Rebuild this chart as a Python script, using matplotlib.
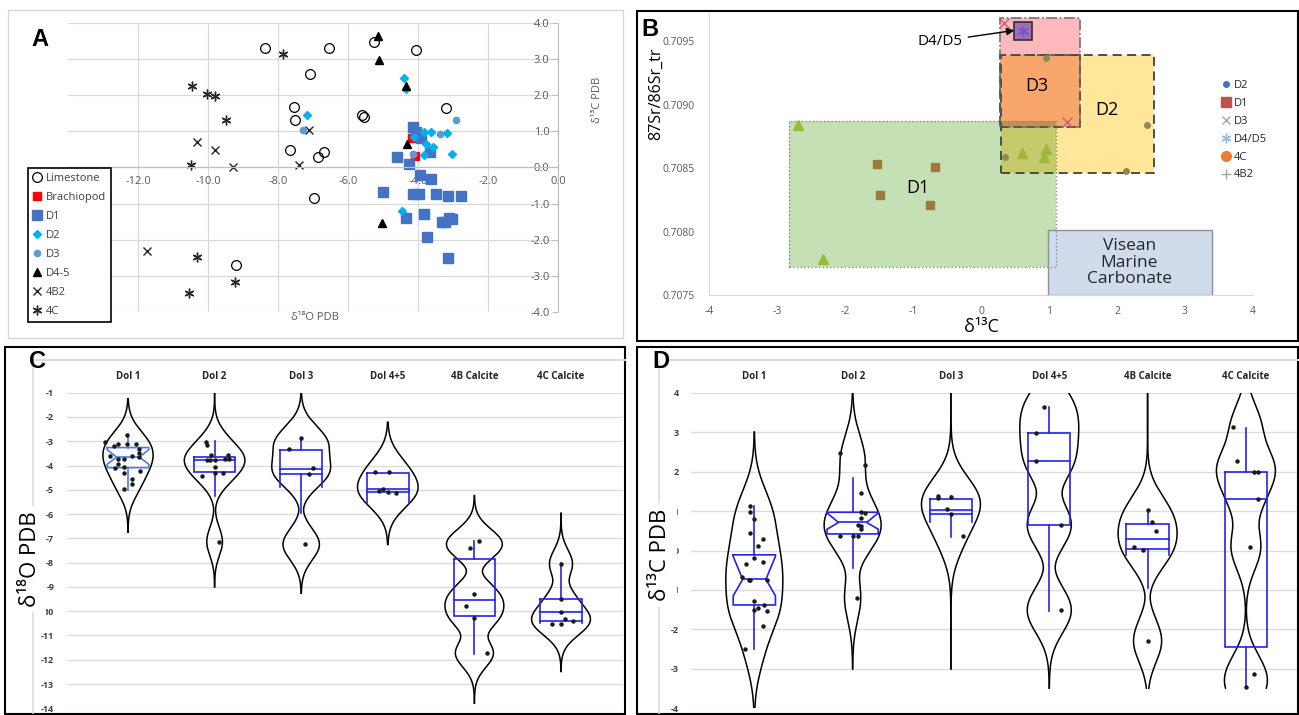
import numpy as np
import matplotlib as mpl
import matplotlib.pyplot as plt
from matplotlib.lines import Line2D
from matplotlib.patches import Rectangle

mpl.rcParams['font.family'] = ['Open Sans', 'DejaVu Sans']

# ------------------------------------------------------- #
# Panel A : d18O vs d13C cross plot

limestone_x = [-8.37, -6.55, -7.09, -7.55, -7.51, -7.66, -6.69, -6.85, -6.98, -9.19, -5.26, -4.05, -5.61, -5.54, -3.20]
limestone_y = [3.31, 3.31, 2.58, 1.66, 1.32, 0.48, 0.43, 0.29, -0.84, -2.71, 3.48, 3.24, 1.44, 1.40, 1.65]
brach_x = [-4.16, -4.09]
brach_y = [0.81, 0.31]
d1_x = [-4.14, -4.05, -3.92, -3.66, -4.59, -4.26, -3.94, -3.64, -5.01, -4.13, -3.98, -3.49, -3.14, -2.77,
        -3.82, -4.34, -3.32, -3.23, -3.12, -3.02, -3.74, -3.13]
d1_y = [1.11, 0.97, 0.80, 0.43, 0.29, 0.10, -0.20, -0.32, -0.69, -0.73, -0.73, -0.75, -0.79, -0.78,
        -1.30, -1.40, -1.50, -1.52, -1.41, -1.44, -1.93, -2.52]
d2_x = [-7.18, -4.39, -4.35, -4.11, -3.82, -3.62, -3.18, -3.77, -3.58, -3.82, -3.04, -4.46]
d2_y = [1.46, 2.46, 2.16, 0.83, 0.97, 0.97, 0.94, 0.64, 0.55, 0.35, 0.37, -1.21]
d3_x = [-7.29, -2.92, -3.37, -4.13]
d3_y = [1.02, 1.30, 0.91, 0.36]
d45_x = [-5.15, -5.11, -4.33, -4.31, -5.02]
d45_y = [3.64, 2.97, 2.26, 0.64, -1.55]
b42_x = [-7.12, -10.31, -9.79, -9.29, -7.41, -11.74]
b42_y = [1.02, 0.71, 0.48, 0.0, 0.06, -2.31]
c4_x = [-7.87, -10.46, -10.02, -9.80, -9.49, -10.48, -10.31, -9.23, -10.53]
c4_y = [3.13, 2.26, 2.02, 1.97, 1.32, 0.07, -2.49, -3.16, -3.48]

# Panel B : Sr isotopes vs d13C
sr_d2_x = [0.96, 2.44, 2.13, 0.35]
sr_d2_y = [0.70937, 0.70884, 0.70848, 0.70859]
sr_d1_x = [-1.53, -0.68, -1.49, -0.75]
sr_d1_y = [0.70853, 0.70851, 0.70829, 0.70821]
sr_d3_x = [0.34, 1.27]
sr_d3_y = [0.70964, 0.70886]
sr_d45_x = [0.62]
sr_d45_y = [0.70958]
sr_tri_x = [-2.69, -2.33, 0.61, 0.96, 0.93]
sr_tri_y = [0.70884, 0.70778, 0.70862, 0.70865, 0.70859]

region_names = ['D2', 'D3 upper', 'D3', 'D1', 'Visean']
region_x0 = [0.30, 0.28, 0.28, -2.82, 0.98]
region_x1 = [2.55, 1.45, 1.45, 1.10, 3.39]
region_y0 = [0.70846, 0.70882, 0.70882, 0.70772, 0.70750]
region_y1 = [0.70939, 0.70968, 0.70939, 0.70887, 0.70801]

# Panels C and D : violins
cats = ['Dol 1', 'Dol 2', 'Dol 3', 'Dol 4+5', '4B Calcite', '4C Calcite']

o18_vals = [
    [-2.74, -3.02, -3.12, -3.12, -3.10, -3.18, -3.30, -3.47, -3.61, -3.61, -3.65, -3.74, -3.74, -3.92,
     -4.06, -4.09, -4.21, -4.31, -4.57, -4.76, -4.97],
    [-3.02, -3.15, -3.55, -3.57, -3.76, -3.77, -3.77, -3.74, -3.74, -4.06, -4.32, -4.32, -4.44, -7.14],
    [-2.88, -3.32, -4.11, -4.36, -7.25],
    [-4.25, -4.25, -5.05, -4.98, -5.08, -5.12],
    [-7.10, -7.38, -9.29, -9.78, -10.29, -11.73],
    [-8.05, -9.50, -10.02, -10.32, -10.51, -10.51, -10.40],
]
o18_jit = [
    [-0.01, -0.26, -0.11, -0.01, 0.09, -0.16, 0.13, 0.13, -0.21, 0.05, 0.13, -0.11, -0.05, -0.11,
     -0.05, -0.15, 0.14, -0.05, 0.05, 0.05, -0.05],
    [-0.10, -0.09, -0.04, 0.15, -0.09, -0.05, 0.0, 0.12, 0.17, 0.0, 0.0, 0.10, -0.14, 0.05],
    [0.0, -0.14, 0.14, 0.09, 0.04],
    [-0.15, 0.01, -0.10, -0.05, 0.0, 0.09],
    [0.05, -0.05, 0.0, -0.10, 0.0, 0.14],
    [0.0, 0.0, 0.0, 0.05, -0.10, 0.0, 0.14],
]
o18_q1 = [-4.09, -4.25, -4.36, -5.07, -10.18, -10.40]
o18_med = [-3.65, -3.77, -4.13, -4.97, -9.54, -10.02]
o18_q3 = [-3.26, -3.63, -3.34, -4.29, -7.86, -9.50]
o18_wlo = [-5.00, -5.25, -5.97, -5.07, -11.78, -10.40]
o18_whi = [-2.75, -3.00, -2.88, -4.29, -7.10, -8.03]
o18_clo = [-3.95, -4.25, -4.87, -5.53, -10.18, -10.47]
o18_chi = [-3.35, -3.63, -3.34, -4.29, -7.86, -9.50]
o18_vlo = [-6.75, -9.00, -9.26, -7.25, -13.79, -12.48]
o18_vhi = [-1.25, -1.00, -1.00, -2.22, -5.24, -5.97]
o18_ticklabels = ['-1', '-2', '-3', '-4', '-5', '-6', '-7', '-8', '-9', '10', '-11', '-12', '-13', '-14']

c13_vals = [
    [1.13, 0.98, 0.80, 0.44, 0.29, 0.11, -0.18, -0.30, -0.33, -0.66, -0.75, -0.75, -0.75, -1.28,
     -1.38, -1.47, -1.51, -1.53, -1.91, -2.50],
    [2.46, 2.17, 1.45, 0.97, 0.94, 0.82, 0.65, 0.62, 0.54, 0.37, 0.37, 0.37, -1.20],
    [1.39, 1.32, 1.35, 1.04, 0.92, 0.37],
    [3.64, 2.98, 2.26, 0.65, -1.51],
    [1.03, 0.73, 0.49, 0.08, 0.01, -2.29],
    [3.14, 2.27, 1.99, 1.99, 1.31, 0.09, -3.13, -3.45],
]
c13_jit = [
    [-0.04, -0.04, 0.0, -0.04, 0.09, 0.04, 0.0, 0.09, -0.08, -0.13, -0.05, -0.04, 0.13, 0.0,
     0.10, 0.04, 0.0, 0.13, 0.09, -0.09],
    [-0.13, 0.13, 0.08, 0.09, 0.13, 0.08, 0.05, 0.08, 0.09, -0.13, 0.0, 0.05, 0.04],
    [-0.13, -0.13, 0.0, -0.04, 0.0, 0.12],
    [-0.05, -0.13, -0.13, 0.12, 0.12],
    [0.0, 0.04, 0.09, -0.14, -0.05, 0.0],
    [-0.13, -0.09, 0.08, 0.12, 0.12, 0.04, 0.08, 0.0],
]
c13_q1 = [-1.38, 0.42, 0.92, 0.65, 0.04, -2.45]
c13_med = [-0.73, 0.71, 1.02, 2.26, 0.28, 1.31]
c13_q3 = [-0.11, 0.97, 1.31, 2.98, 0.66, 2.00]
c13_wlo = [-2.50, -0.44, 0.35, -1.53, -0.94, -3.45]
c13_whi = [1.13, 1.83, 1.37, 3.64, 1.03, 3.11]
c13_clo = [-1.15, 0.54, 0.73, 0.65, -0.11, -2.45]
c13_chi = [-0.15, 0.95, 1.31, 2.98, 0.66, 2.00]
c13_vlo = [-4.00, -3.00, -3.00, -3.49, -3.49, -3.49]
c13_vhi = [3.00, 4.00, 4.00, 5.50, 4.00, 4.00]
c13_ticklabels = ['4', '3', '2', '1', '0', '1', '-2', '-3', '-4']

# ------------------------------------------------------- #

W, H = 1299, 715

def fx(px):
    return px / W

def fy(py):
    return 1 - py / H

def frame(l, t, r, b):
    return [fx(l), fy(b), (r - l) / W, (b - t) / H]

def box_outline(x0, y0, x1, y1, color, lw):
    fig.add_artist(Rectangle((fx(x0), fy(y1)), (x1 - x0) / W, (y1 - y0) / H, transform=fig.transFigure,
                             fill=False, ec=color, lw=lw))

def kde(vals, bw, lo, hi):
    # gaussian kde, width drawn with a softened profile so the bulbs look full
    ys = np.linspace(lo, hi, 400)
    d = np.exp(-0.5 * ((ys[:, None] - np.array(vals)[None, :]) / bw) ** 2).sum(axis=1)
    d = (d / d.max()) ** 0.6
    return ys, d

def draw_box(ax, x, q1, med, q3, wlo, whi, clo, chi, hw, notch, color):
    kw = dict(color=color, lw=1.2, zorder=3, solid_joinstyle='miter')
    if notch:
        f = 0.55
        xs = [x - hw, x + hw, x + hw, x + f * hw, x + hw, x + hw, x - hw, x - hw, x - f * hw, x - hw, x - hw]
        ys = [q3, q3, chi, med, clo, q1, q1, clo, med, chi, q3]
        ax.plot(xs, ys, **kw)
        ax.plot([x - f * hw, x + f * hw], [med, med], **kw)
    else:
        ax.plot([x - hw, x + hw, x + hw, x - hw, x - hw], [q3, q3, q1, q1, q3], **kw)
        ax.plot([x - hw, x + hw], [med, med], **kw)
        if clo < q1:
            ax.plot([x - hw, x - hw], [q1, clo], **kw)
            ax.plot([x + hw, x + hw], [q1, clo], **kw)
    if whi > q3:
        ax.plot([x, x], [q3, whi], **kw)
    if wlo < q1:
        ax.plot([x, x], [q1, wlo], **kw)

fig = plt.figure(figsize=(12.99, 7.15), dpi=100)

# panel borders
box_outline(8, 10, 623, 338, '#D9D9D9', 1.0)
box_outline(637, 11, 1298, 341, 'black', 1.5)
box_outline(5, 347, 625, 714, 'black', 1.5)
box_outline(637, 347, 1298, 714, 'black', 1.5)

# ------------------------------------------------------- #
# A

axA = fig.add_axes(frame(68, 22.7, 558, 312))
axA.set_xlim(-14, 0)
axA.set_ylim(-4, 4)
axA.set_xticks(np.arange(-12, 0.1, 2))
axA.set_yticks(np.arange(-4, 4.1, 1))
axA.xaxis.set_major_formatter(lambda v, p: f'{v:.1f}'.replace('-0.0', '0.0'))
axA.yaxis.set_major_formatter(lambda v, p: f'{v:.1f}'.replace('-0.0', '0.0'))
axA.grid(True, color='#D9D9D9', lw=0.9)
axA.set_axisbelow(True)
axA.spines['top'].set_visible(False)
axA.spines['right'].set_visible(False)
axA.spines['left'].set_position(('data', 0))
axA.spines['bottom'].set_position(('data', 0))
axA.spines['left'].set_color('#BFBFBF')
axA.spines['bottom'].set_color('#BFBFBF')
axA.tick_params(axis='y', length=4, color='#BFBFBF', labelsize=8, labelcolor='#595959', pad=2)
axA.tick_params(axis='x', length=0, labelsize=8, labelcolor='#595959', pad=6)

axA.plot(limestone_x, limestone_y, 'o', mfc='none', mec='black', ms=7, mew=0.9, label='Limestone')
axA.plot(b42_x, b42_y, 'x', color='#262626', ms=6, mew=1.0, label='4B2')
axA.plot(c4_x, c4_y, marker=(6, 2, 0), ls='none', color='#262626', ms=7, mew=1.0, label='4C')
axA.plot(brach_x, brach_y, 's', color='#FF0000', ms=6, label='Brachiopod')
axA.plot(d1_x, d1_y, 's', color='#4472C4', ms=6.5, label='D1')
axA.plot(d2_x, d2_y, 'D', color='#00B0F0', ms=4, label='D2')
axA.plot(d3_x, d3_y, 'o', color='#5B9BD5', ms=4.5, label='D3')
axA.plot(d45_x, d45_y, '^', color='black', ms=5.5, label='D4-5')

h, l = axA.get_legend_handles_labels()
order = ['Limestone', 'Brachiopod', 'D1', 'D2', 'D3', 'D4-5', '4B2', '4C']
hd = dict(zip(l, h))
legA = axA.legend([hd[k] for k in order], order, loc='upper left',
                  bbox_to_anchor=(fx(28), fy(168)), bbox_transform=fig.transFigure,
                  fontsize=8, labelcolor='#404040', frameon=True, fancybox=False,
                  edgecolor='black', framealpha=1, borderpad=0.45, labelspacing=0.72,
                  handlelength=0.8, handletextpad=0.35, borderaxespad=0)
legA.get_frame().set_linewidth(1.2)

fig.text(fx(315), fy(318), 'δ¹⁸O PDB', fontsize=8, color='#595959', ha='center', va='center')
fig.text(fx(597), fy(100), 'δ¹³C PDB', fontsize=8, color='#595959', ha='center', va='center', rotation=90)

# ------------------------------------------------------- #
# B

axB = fig.add_axes(frame(709, 12, 1253, 295))
axB.set_xlim(-4, 4)
axB.set_ylim(0.7075, 0.70973)
axB.set_xticks(np.arange(-4, 4.1, 1))
axB.set_yticks([0.7075, 0.7080, 0.7085, 0.7090, 0.7095])
axB.yaxis.set_major_formatter(lambda v, p: f'{v:.4f}')
axB.xaxis.set_major_formatter(lambda v, p: f'{v:.0f}')
for s in ['top', 'right']:
    axB.spines[s].set_visible(False)
for s in ['left', 'bottom']:
    axB.spines[s].set_color('#D9D9D9')
axB.tick_params(length=0, labelsize=7.5, labelcolor='#595959')
axB.tick_params(axis='y', pad=10)
axB.tick_params(axis='x', pad=8)

face = {'D2': '#FFE699', 'D3 upper': '#FFB9BD', 'D3': '#F9A66C', 'D1': '#C5E0B4', 'Visean': '#D0DCEC'}
edge = {'D2': ('#404040', (0, (5, 3)), 1.3), 'D3 upper': ('#707070', '-.', 1.2),
        'D3': ('#505050', (0, (5, 3)), 1.2), 'D1': ('#8A8A8A', ':', 1.0), 'Visean': ('#909090', '-', 1.0)}
for i, name in enumerate(region_names):
    x0, x1, y0, y1 = region_x0[i], region_x1[i], region_y0[i], region_y1[i]
    axB.add_patch(Rectangle((x0, y0), x1 - x0, y1 - y0, fc=face[name], ec='none', zorder=1 + 0.1 * i))

# green D1 box multiplies with the boxes below it
gi = region_names.index('D1')
g_rgb = np.array(mpl.colors.to_rgb(face['D1']))
for i, name in enumerate(region_names[:gi]):
    ix0 = max(region_x0[i], region_x0[gi]); ix1 = min(region_x1[i], region_x1[gi])
    iy0 = max(region_y0[i], region_y0[gi]); iy1 = min(region_y1[i], region_y1[gi])
    if ix1 > ix0 and iy1 > iy0:
        c = np.array(mpl.colors.to_rgb(face[name])) * g_rgb
        axB.add_patch(Rectangle((ix0, iy0), ix1 - ix0, iy1 - iy0, fc=c, ec='none', zorder=1.45))

for i, name in enumerate(region_names):
    x0, x1, y0, y1 = region_x0[i], region_x1[i], region_y0[i], region_y1[i]
    ec, ls, lw = edge[name]
    axB.add_patch(Rectangle((x0, y0), x1 - x0, y1 - y0, fill=False, ec=ec, ls=ls, lw=lw, zorder=2))

axB.plot(sr_tri_x, sr_tri_y, '^', color='#9DB83A', ms=7, zorder=3)
axB.plot(sr_d1_x, sr_d1_y, 's', color='#9A7B3A', ms=6, zorder=3)
axB.plot(sr_d2_x, sr_d2_y, 'o', color='#8E8A55', ms=4, zorder=3)
axB.plot(sr_d3_x, sr_d3_y, 'x', color='#C8607A', ms=7, mew=1.0, zorder=3)
axB.plot(sr_d45_x, sr_d45_y, 's', color='#A46CB4', mec='#303030', ms=13, mew=1.2, zorder=3)
axB.plot(sr_d45_x, sr_d45_y, marker=(6, 2, 0), ls='none', color='#6A5ACD', ms=8, mew=1.0, zorder=4)

axB.annotate('D4/D5', xy=(sr_d45_x[0] - 0.13, sr_d45_y[0] + 0.000005), xytext=(-0.6, 0.70950),
             fontsize=11, ha='center', va='center',
             arrowprops=dict(arrowstyle='-|>', color='black', lw=1.0, shrinkA=2, shrinkB=0))
axB.text(-0.93, 0.70834, 'D1', fontsize=13, ha='center', va='center', zorder=5)
axB.text(1.85, 0.70896, 'D2', fontsize=13, ha='center', va='center', zorder=5)
axB.text(0.82, 0.70915, 'D3', fontsize=13, ha='center', va='center', zorder=5)
axB.text(2.18, 0.707755, 'Visean\nMarine\nCarbonate', fontsize=12.5, ha='center', va='center',
         color='#262626', linespacing=1.05, zorder=5)

legB_handles = [
    Line2D([], [], marker='o', ls='none', color='#4472C4', ms=4),
    Line2D([], [], marker='s', ls='none', color='#C0504D', ms=7),
    Line2D([], [], marker='x', ls='none', color='#A5A5A5', ms=6, mew=1),
    Line2D([], [], marker=(6, 2, 0), ls='none', color='#8DC0E0', ms=7, mew=1),
    Line2D([], [], marker='o', ls='none', color='#ED7D31', ms=7),
    Line2D([], [], marker='+', ls='none', color='#A5A5A5', ms=7, mew=1),
]
axB.legend(legB_handles, ['D2', 'D1', 'D3', 'D4/D5', '4C', '4B2'], loc='upper left',
           bbox_to_anchor=(fx(1222), fy(80)), bbox_transform=fig.transFigure, frameon=False,
           fontsize=8, labelspacing=0.62, handlelength=0.8, handletextpad=0.3, borderpad=0,
           borderaxespad=0, labelcolor='#262626')

fig.text(fx(656), fy(94), '87Sr/86Sr_tr', fontsize=11.5, rotation=90, ha='center', va='center')
fig.text(fx(981), fy(327), 'δ¹³C', fontsize=13, ha='center', va='center')

# ------------------------------------------------------- #
# C and D

def violin_panel(rect, ylim, ticklabels, vals, jit, q1, med, q3, wlo, whi, clo, chi, vlo, vhi,
                 bws, vhw, bhw, notch, colors, xlim):
    ax = fig.add_axes(rect)
    ax.set_xlim(*xlim)
    ax.set_ylim(*ylim)
    ax.set_yticks(np.arange(ylim[1], ylim[0] - 0.1, -1))
    ax.set_yticklabels(ticklabels)
    ax.xaxis.tick_top()
    ax.set_xticks(range(1, len(cats) + 1))
    ax.set_xticklabels(cats)
    for s in ax.spines.values():
        s.set_visible(False)
    ax.grid(axis='y', color='#DCDCDC', lw=1.0)
    ax.set_axisbelow(True)
    ax.tick_params(length=0)
    ax.tick_params(axis='y', labelsize=6.5, labelcolor='#404040', pad=9)
    ax.tick_params(axis='x', labelsize=7, labelcolor='#262626', pad=8)
    for t in ax.get_xticklabels() + ax.get_yticklabels():
        t.set_fontweight('bold')
    for i in range(len(cats)):
        x = i + 1
        ys, d = kde(vals[i], bws[i], vlo[i], vhi[i])
        ax.plot(x - vhw[i] * d, ys, color='black', lw=1.1, zorder=2)
        ax.plot(x + vhw[i] * d, ys, color='black', lw=1.1, zorder=2)
        draw_box(ax, x, q1[i], med[i], q3[i], wlo[i], whi[i], clo[i], chi[i], bhw[i], notch[i], colors[i])
        ax.plot(x + np.array(jit[i]), vals[i], 'o', color='#1A1A1A', ms=2.2, zorder=4)
    return ax

blue = '#2424EE'
axC = violin_panel(frame(66.7, 392.7, 623, 708.3), (-14, -1), o18_ticklabels, o18_vals, o18_jit,
                   o18_q1, o18_med, o18_q3, o18_wlo, o18_whi, o18_clo, o18_chi, o18_vlo, o18_vhi,
                   [0.45, 0.45, 0.5, 0.55, 0.45, 0.45], [0.29, 0.35, 0.34, 0.35, 0.34, 0.34],
                   [0.24] * 6, [True, False, False, False, False, False],
                   ['#4A7FE0'] + [blue] * 5, (0.292, 6.716))
axD = violin_panel(frame(691, 392.7, 1299, 708.3), (-4, 4), c13_ticklabels, c13_vals, c13_jit,
                   c13_q1, c13_med, c13_q3, c13_wlo, c13_whi, c13_clo, c13_chi, c13_vlo, c13_vhi,
                   [0.5, 0.45, 0.45, 0.45, 0.42, 0.45], [0.29, 0.29, 0.30, 0.30, 0.30, 0.30],
                   [0.215, 0.26, 0.215, 0.215, 0.215, 0.215], [True, True, False, False, False, False],
                   [blue] * 6, (0.356, 6.54))

# light frame lines around the violin charts
for x0, x1, xv in [(33, 625, 33), (667, 1298, 659)]:
    fig.add_artist(Line2D([fx(x0), fx(x1)], [fy(360), fy(360)], color='#DCDCDC', lw=1.5))
    fig.add_artist(Line2D([fx(xv), fx(xv)], [fy(360), fy(713)], color='#DCDCDC', lw=1.2))

fig.text(fx(30), fy(559), 'δ¹⁸O PDB', fontsize=16, rotation=90, ha='center', va='center',
         bbox=dict(fc='white', ec='none', pad=4))
fig.text(fx(661), fy(555), 'δ¹³C PDB', fontsize=16, rotation=90, ha='center', va='center',
         bbox=dict(fc='white', ec='none', pad=4))

# panel letters
for letter, px, py in [('A', 40, 40), ('B', 650, 30), ('C', 38, 362), ('D', 661, 362)]:
    fig.text(fx(px), fy(py), letter, fontsize=17, fontweight='bold', family='Liberation Sans',
             ha='center', va='center')

fig.savefig('out.png', dpi=100)
